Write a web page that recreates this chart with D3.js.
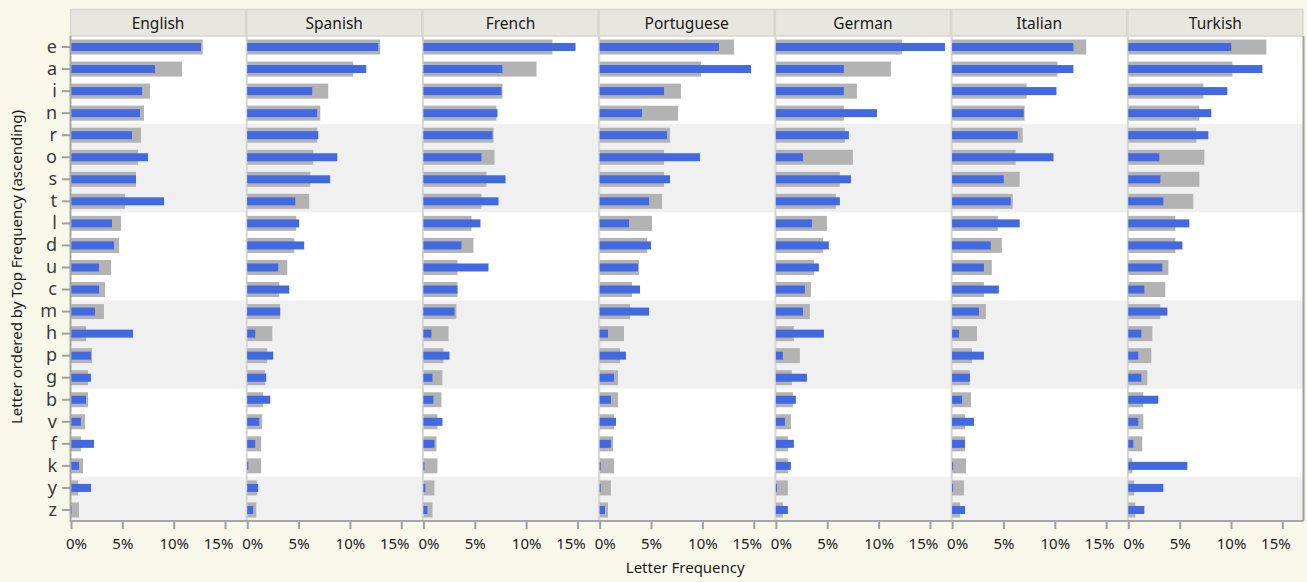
<!DOCTYPE html>
<html>
<head>
<meta charset="utf-8">
<script src="https://cdn.jsdelivr.net/npm/d3@7"></script>
<style>
  body { margin: 0; background: #f8f8ea; }
  svg { display: block; }
  text { font-family: "Noto Sans", "Open Sans", sans-serif; }
</style>
</head>
<body>
<svg id="chart" width="1307" height="582"></svg>
<script>
// Languages shown as facets, letters in row order, axis ticks (percent)
const languages = ["English", "Spanish", "French", "Portuguese", "German", "Italian", "Turkish"];
const letters = ["e", "a", "i", "n", "r", "o", "s", "t", "l", "d", "u", "c", "m", "h", "p", "g", "b", "v", "f", "k", "y", "z"];
const tickValues = [0, 5, 10, 15];

// Letter frequency (%) in each language (blue bars)
const englishFreq    = [12.66, 8.18, 6.92, 6.72, 5.94, 7.50, 6.33, 9.06, 3.99, 4.19, 2.73, 2.73, 2.34, 6.04, 1.95, 1.95, 1.46, 0.97, 2.24, 0.78, 1.95, 0.07];
const spanishFreq    = [12.76, 11.59, 6.33, 6.82, 6.92, 8.77, 8.08, 4.68, 5.06, 5.55, 3.02, 4.09, 3.21, 0.78, 2.53, 1.85, 2.24, 1.17, 0.78, 0.10, 1.07, 0.58];
const frenchFreq     = [14.81, 7.69, 7.60, 7.21, 6.72, 5.65, 7.99, 7.31, 5.55, 3.70, 6.33, 3.31, 3.02, 0.78, 2.53, 0.88, 0.97, 1.85, 1.07, 0.10, 0.19, 0.39];
const portugueseFreq = [11.62, 14.74, 6.27, 4.12, 6.56, 9.77, 6.85, 4.81, 2.86, 5.00, 3.73, 3.93, 4.81, 0.81, 2.56, 1.40, 1.10, 1.59, 1.10, 0.10, 0.10, 0.52];
const germanFreq     = [16.46, 6.62, 6.62, 9.84, 7.11, 2.63, 7.31, 6.23, 3.51, 5.16, 4.19, 2.82, 2.63, 4.68, 0.68, 3.02, 1.95, 0.88, 1.75, 1.46, 0.10, 1.17];
const italianFreq    = [11.81, 11.81, 10.16, 6.97, 6.39, 9.87, 5.03, 5.71, 6.58, 3.77, 3.10, 4.55, 2.61, 0.68, 3.10, 1.74, 0.97, 2.13, 1.26, 0.10, 0.10, 1.26];
const turkishFreq    = [10.03, 13.05, 9.64, 8.08, 7.79, 3.02, 3.12, 3.41, 5.94, 5.26, 3.31, 1.56, 3.80, 1.27, 0.97, 1.27, 2.92, 0.97, 0.49, 5.75, 3.41, 1.56];

// Top-frequency reference for each facet (grey bars)
const englishTop    = [12.82, 10.81, 7.69, 7.11, 6.82, 6.53, 6.33, 5.26, 4.87, 4.68, 3.90, 3.31, 3.21, 1.46, 2.05, 1.66, 1.66, 1.36, 0.97, 1.17, 0.68, 0.78];
const spanishTop    = [12.95, 10.32, 7.89, 7.11, 6.82, 6.43, 6.14, 6.04, 4.77, 4.58, 3.90, 3.12, 3.21, 2.44, 1.95, 1.75, 1.56, 1.46, 1.36, 1.36, 0.97, 0.88];
const frenchTop     = [12.56, 11.01, 7.69, 7.11, 6.82, 6.92, 6.14, 5.65, 4.68, 4.87, 3.31, 3.31, 3.21, 2.44, 1.95, 1.85, 1.75, 1.36, 1.27, 1.36, 1.07, 0.88];
const portugueseTop = [13.08, 9.87, 7.92, 7.63, 6.85, 6.27, 6.27, 6.07, 5.10, 4.61, 3.83, 3.15, 2.95, 2.37, 1.98, 1.79, 1.79, 1.40, 1.30, 1.40, 1.10, 0.81];
const germanTop     = [12.27, 11.20, 7.89, 6.62, 6.72, 7.50, 6.23, 5.84, 4.97, 4.58, 3.70, 3.41, 3.31, 1.75, 2.34, 1.56, 1.66, 1.46, 1.17, 1.17, 1.17, 0.68];
const italianTop    = [13.06, 10.26, 7.26, 7.06, 6.87, 6.19, 6.58, 5.90, 4.45, 4.84, 3.87, 3.10, 3.29, 2.42, 1.94, 1.74, 1.84, 1.26, 1.26, 1.35, 1.16, 0.77];
const turkishTop    = [13.44, 10.13, 7.31, 6.92, 6.62, 7.40, 6.92, 6.33, 4.58, 4.58, 3.90, 3.60, 3.12, 2.34, 2.24, 1.85, 1.46, 1.46, 1.36, 0.39, 0.58, 0.68];

const freqByLanguage = [englishFreq, spanishFreq, frenchFreq, portugueseFreq, germanFreq, italianFreq, turkishFreq];
const topByLanguage  = [englishTop, spanishTop, frenchTop, portugueseTop, germanTop, italianTop, turkishTop];

const svg = d3.select("#chart");

const plotLeft = 71, plotRight = 1303.5, plotTop = 36, plotBottom = 521;
const headerTop = 9.5;
const panelW = (plotRight - plotLeft) / languages.length;
const pxPerPct = 10.27;

const y = d3.scaleBand().domain(letters).range([plotTop, plotBottom]);
const bw = y.bandwidth();

// Alternating row shading in groups of four
const groups = d3.range(Math.ceil(letters.length / 4));
svg.append("g").selectAll("rect")
  .data(groups)
  .join("rect")
  .attr("x", plotLeft)
  .attr("width", plotRight - plotLeft)
  .attr("y", g => y(letters[g * 4]))
  .attr("height", g => y(letters[Math.min(g * 4 + 3, letters.length - 1)]) + bw - y(letters[g * 4]))
  .attr("fill", g => g % 2 === 0 ? "#ffffff" : "#eff0ef");

languages.forEach((lang, i) => {
  const x0 = plotLeft + i * panelW + i * 0.15;
  const x = d3.scaleLinear().domain([0, panelW / pxPerPct]).range([x0, x0 + panelW]);
  const rows = letters.map((l, j) => ({ letter: l, freq: freqByLanguage[i][j], top: topByLanguage[i][j] }));
  const g = svg.append("g");

  // panel separator
  if (i > 0) {
    g.append("line")
      .attr("x1", x0 - 0.5).attr("x2", x0 - 0.5)
      .attr("y1", plotTop).attr("y2", plotBottom)
      .attr("stroke", "#d6d6d6").attr("stroke-width", 2);
  }

  // header strip
  g.append("rect")
    .attr("x", x0 - 0.5).attr("y", headerTop)
    .attr("width", panelW - 1).attr("height", plotTop - headerTop)
    .attr("fill", "#e7e7df").attr("stroke", "#d7d7cd").attr("stroke-width", 1.5);
  g.append("text")
    .attr("x", x0 + panelW / 2 - 1).attr("y", 29)
    .attr("text-anchor", "middle")
    .attr("font-size", 15.5).attr("fill", "#1a1a1a")
    .text(lang);

  // grey reference bars
  g.append("g").selectAll("rect")
    .data(rows)
    .join("rect")
    .attr("x", x(0))
    .attr("y", d => y(d.letter) + (bw - 15) / 2)
    .attr("width", d => x(d.top) - x(0))
    .attr("height", 15)
    .attr("fill", "#b3b3b3");

  // blue language bars
  g.append("g").selectAll("rect")
    .data(rows)
    .join("rect")
    .attr("x", x(0))
    .attr("y", d => y(d.letter) + (bw - 8) / 2)
    .attr("width", d => x(d.freq) - x(0))
    .attr("height", 8)
    .attr("fill", "#4169e1");

  // x axis
  const ax = g.append("g")
    .attr("transform", `translate(0,${plotBottom + 1})`)
    .call(d3.axisBottom(x).tickValues(tickValues).tickFormat(d => d + "%").tickSize(7).tickPadding(9));
  ax.select(".domain").remove();
  ax.selectAll(".tick line").attr("stroke", "#a0a0a0").attr("stroke-width", 2);
  ax.selectAll(".tick text")
    .attr("font-family", "\"Noto Sans\", sans-serif")
    .attr("font-size", 15).attr("fill", "#1a1a1a")
    .attr("dx", d => d === 0 ? 5 : d === 15 ? -7 : 0);
});

// frame lines
svg.append("line").attr("x1", 70.5).attr("x2", 70.5).attr("y1", plotTop).attr("y2", plotBottom + 1)
  .attr("stroke", "#a6a6a6").attr("stroke-width", 2);
svg.append("line").attr("x1", plotLeft).attr("x2", plotRight).attr("y1", plotBottom).attr("y2", plotBottom)
  .attr("stroke", "#a6a6a6").attr("stroke-width", 2);
svg.append("line").attr("x1", plotRight).attr("x2", plotRight).attr("y1", plotTop).attr("y2", plotBottom)
  .attr("stroke", "#a0a0a0").attr("stroke-width", 2);

// y axis with letters
const ay = svg.append("g")
  .attr("transform", `translate(${plotLeft - 1},0)`)
  .call(d3.axisLeft(y).tickSize(8).tickPadding(5));
ay.select(".domain").remove();
ay.selectAll(".tick line").attr("stroke", "#a0a0a0").attr("stroke-width", 2);
ay.selectAll(".tick text")
  .attr("font-family", "\"Liberation Mono\", monospace")
  .attr("font-size", 18).attr("fill", "#3a3a3a");

// axis titles
svg.append("text")
  .attr("x", (plotLeft + plotRight) / 2 - 2).attr("y", 573)
  .attr("text-anchor", "middle").attr("font-size", 15).attr("fill", "#1a1a1a")
  .text("Letter Frequency");
svg.append("text")
  .attr("transform", `translate(22,${267}) rotate(-90)`)
  .attr("text-anchor", "middle").attr("font-size", 15).attr("fill", "#1a1a1a")
  .text("Letter ordered by Top Frequency (ascending)");
</script>
</body>
</html>
